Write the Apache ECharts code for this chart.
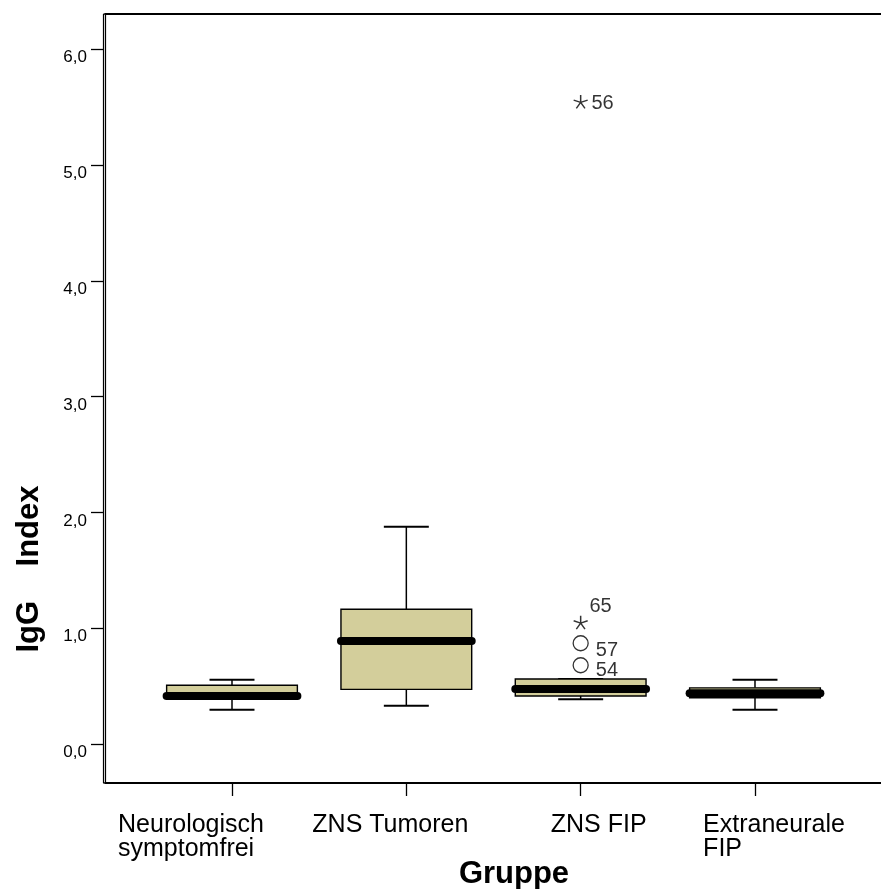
<!DOCTYPE html>
<html><head><meta charset="utf-8">
<script src="https://cdn.jsdelivr.net/npm/echarts@6/dist/echarts.min.js"></script>
<style>html,body{margin:0;padding:0;background:#fff;overflow:hidden}#c{width:881px;height:889px}</style>
</head><body><div id="c"></div>
<script>
// ---- data ----
const categories = ['Neurologisch\nsymptomfrei', 'ZNS Tumoren', 'ZNS FIP', 'Extraneurale\nFIP'];
const whiskerLow  = [0.296, 0.331, 0.386, 0.296];
const quartile1   = [0.405, 0.472, 0.415, 0.400];
const medians     = [0.415, 0.889, 0.475, 0.438];
const quartile3   = [0.507, 1.163, 0.561, 0.485];
const whiskerHigh = [0.555, 1.877, 0.561, 0.555];
const outlierGroup = [3, 3, 3, 3];   // 1-based group position (ZNS FIP)
const outlierValue = [0.68, 0.87, 1.05, 5.547];
const outlierCase  = ['54', '57', '65', '56'];
const outlierKind  = ['circle', 'circle', 'extreme', 'extreme'];
const yTickValues = [0, 1, 2, 3, 4, 5, 6];
const xTickValues = [1, 2, 3, 4];

// ---- presentation ----
const FONT = 'Liberation Sans, Arial, sans-serif';
const labelStyleKey = ['c0', 'c1', 'c2', 'c3'];
const labelOffsetByCase = { '54': [0, 5], '57': [0, 7], '65': [-2, -16], '56': [0, 2] };
const starPath = 'path://M0 0L0 -10M0 0L9.51 -3.09M0 0L5.88 8.09M0 0L-5.88 8.09M0 0L-9.51 -3.09';

const boxData = categories.map((c, i) => [i + 1, whiskerLow[i], quartile1[i], medians[i], quartile3[i], whiskerHigh[i]]);

function outliersOf(kind) {
  const out = [];
  outlierValue.forEach((v, i) => {
    if (outlierKind[i] !== kind) return;
    out.push({ value: [outlierGroup[i], v], name: outlierCase[i],
      label: { offset: labelOffsetByCase[outlierCase[i]] || [0, 0] } });
  });
  return out;
}

const xMin = 0.2715, xMax = 4.7228, yMin = -0.3368, yMax = 6.304;

const richLabel = {
  c0: { fontFamily: FONT, fontSize: 25, lineHeight: 24, color: '#000', align: 'left', padding: [0, 82, 0, 0] },
  c1: { fontFamily: FONT, fontSize: 25, lineHeight: 24, color: '#000', align: 'left', padding: [0, 32, 0, 0] },
  c2: { fontFamily: FONT, fontSize: 25, lineHeight: 24, color: '#000', align: 'left', padding: [0, 0, 0, 36] },
  c3: { fontFamily: FONT, fontSize: 25, lineHeight: 24, color: '#000', align: 'left', padding: [0, 0, 0, 38] }
};
function categoryLabel(v) {
  const i = Math.round(v) - 1;
  const k = labelStyleKey[i];
  return categories[i].split('\n').map(s => '{' + k + '|' + s + '}').join('\n');
}
function labelAxis(values, position, extra) {
  return Object.assign({
    type: 'value', position: position, min: xMin, max: xMax,
    splitLine: { show: false },
    axisLine: { show: false },
    axisTick: { show: false },
    axisLabel: {
      show: true, customValues: values, margin: 30, color: '#000',
      fontFamily: FONT, fontSize: 25, lineHeight: 24, hideOverlap: false,
      formatter: categoryLabel, rich: richLabel
    }
  }, extra || {});
}

const chart = echarts.init(document.getElementById('c'), null, { renderer: 'canvas' });
chart.setOption({
  animation: false,
  backgroundColor: '#fff',
  grid: { left: 105, right: 0, top: 14, bottom: 106, containLabel: false, outerBoundsMode: 'none' },
  xAxis: [
    labelAxis(xTickValues.slice(1), 'bottom', {
      axisLine: { show: true, onZero: false, lineStyle: { color: '#000', width: 2 } },
      axisTick: { show: true, inside: false, length: 13, customValues: xTickValues.slice(), lineStyle: { color: '#000', width: 1.3 } },
      name: 'Gruppe', nameLocation: 'middle', nameGap: 76, nameMoveOverlap: false,
      nameTextStyle: { fontFamily: FONT, fontSize: 31, fontWeight: 'bold', color: '#000', padding: [0, 0, 0, 42] }
    }),
    {
      type: 'value', position: 'top', min: xMin, max: xMax,
      splitLine: { show: false },
      axisLine: { show: true, onZero: false, lineStyle: { color: '#000', width: 2 } },
      axisTick: { show: false }, axisLabel: { show: false }
    },
    labelAxis(xTickValues.slice(0, 1), 'bottom')
  ],
  yAxis: [{
    type: 'value', position: 'left', offset: 2, min: yMin, max: yMax,
    splitLine: { show: false },
    axisLine: { show: true, onZero: false, lineStyle: { color: '#000', width: 1.2 } },
    axisTick: { show: true, length: 12, customValues: yTickValues.slice(), lineStyle: { color: '#000', width: 1.3 } },
    axisLabel: {
      show: true, customValues: yTickValues.slice(), margin: 16, color: '#000',
      fontFamily: FONT, fontSize: 17, lineHeight: 17, verticalAlign: 'top',
      formatter: v => v.toFixed(1).replace('.', ',')
    },
    name: 'IgG    Index', nameLocation: 'middle', nameGap: 58, nameMoveOverlap: false,
    nameTextStyle: { fontFamily: FONT, fontSize: 31, fontWeight: 'bold', color: '#000', padding: [0, 341, 0, 0] }
  }, {
    type: 'value', position: 'left', offset: 0, min: yMin, max: yMax,
    splitLine: { show: false },
    axisLine: { show: true, onZero: false, lineStyle: { color: '#000', width: 1.2 } },
    axisTick: { show: false }, axisLabel: { show: false }
  }],
  series: [{
    type: 'custom', xAxisIndex: 0, yAxisIndex: 0,
    data: boxData,
    renderItem: function (params, api) {
      const x = api.value(0);
      const pLow = api.coord([x, api.value(1)]);
      const pQ1 = api.coord([x, api.value(2)]);
      const pMed = api.coord([x, api.value(3)]);
      const pQ3 = api.coord([x, api.value(4)]);
      const pHigh = api.coord([x, api.value(5)]);
      const boxW = api.size([0.75, 0])[0];
      const capW = api.size([0.258, 0])[0];
      const cx = pMed[0];
      const thin = { stroke: '#000', lineWidth: 1.5 };
      const cap = { stroke: '#000', lineWidth: 2 };
      return { type: 'group', children: [
        { type: 'line', shape: { x1: cx, y1: pHigh[1], x2: cx, y2: pQ3[1] }, style: thin },
        { type: 'line', shape: { x1: cx, y1: pQ1[1], x2: cx, y2: pLow[1] }, style: thin },
        { type: 'line', shape: { x1: cx - capW / 2, y1: pHigh[1], x2: cx + capW / 2, y2: pHigh[1] }, style: cap },
        { type: 'line', shape: { x1: cx - capW / 2, y1: pLow[1], x2: cx + capW / 2, y2: pLow[1] }, style: cap },
        { type: 'rect', shape: { x: cx - boxW / 2, y: pQ3[1], width: boxW, height: pQ1[1] - pQ3[1] },
          style: { fill: '#d3ce9b', stroke: '#000', lineWidth: 1.4 } },
        { type: 'line', shape: { x1: cx - boxW / 2, y1: pMed[1], x2: cx + boxW / 2, y2: pMed[1] },
          style: { stroke: '#000', lineWidth: 8, lineCap: 'round' } }
      ] };
    }
  }, {
    type: 'scatter', xAxisIndex: 0, yAxisIndex: 0,
    symbol: 'circle', symbolSize: 15,
    itemStyle: { color: 'rgba(0,0,0,0)', borderColor: '#000', borderWidth: 1.3 },
    label: { show: true, position: 'right', distance: 7, formatter: '{b}', color: '#000', fontFamily: FONT, fontSize: 20 },
    data: outliersOf('circle')
  }, {
    type: 'scatter', xAxisIndex: 0, yAxisIndex: 0,
    symbol: starPath, symbolSize: 14, symbolKeepAspect: true,
    itemStyle: { color: 'rgba(0,0,0,0)', borderColor: '#000', borderWidth: 1.5 },
    label: { show: true, position: 'right', distance: 3, formatter: '{b}', color: '#000', fontFamily: FONT, fontSize: 20 },
    data: outliersOf('extreme')
  }]
});
</script>
</body></html>
